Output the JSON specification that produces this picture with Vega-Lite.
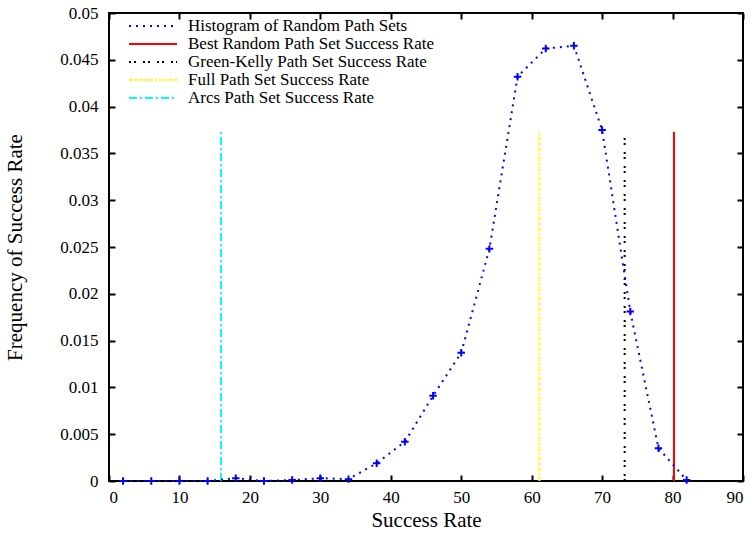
{
  "$schema": "https://vega.github.io/schema/vega-lite/v6.json",
  "autosize": "none",
  "width": 634,
  "height": 468,
  "padding": {"left": 109, "top": 13, "right": 12, "bottom": 52},
  "background": "white",
  "config": {
    "font": "Liberation Serif",
    "view": {"stroke": "black", "strokeWidth": 2},
    "axis": {"grid": false, "labelColor": "black", "titleColor": "black", "labelFont": "Liberation Serif", "titleFont": "Liberation Serif", "labelFontSize": 17, "titleFontSize": 21, "titleFontWeight": "normal"},
    "legend": {"labelFont": "Liberation Serif", "labelFontSize": 17, "labelColor": "black", "labelLimit": 400}
  },
  "datasets": {
    "hist": [
      {"x": 2, "y": 0, "series": "Histogram of Random Path Sets"},
      {"x": 6, "y": 0, "series": "Histogram of Random Path Sets"},
      {"x": 10, "y": 0, "series": "Histogram of Random Path Sets"},
      {"x": 14, "y": 0, "series": "Histogram of Random Path Sets"},
      {"x": 18, "y": 0.0003, "series": "Histogram of Random Path Sets"},
      {"x": 22, "y": 0, "series": "Histogram of Random Path Sets"},
      {"x": 26, "y": 0.0001, "series": "Histogram of Random Path Sets"},
      {"x": 30, "y": 0.0003, "series": "Histogram of Random Path Sets"},
      {"x": 34, "y": 0.0002, "series": "Histogram of Random Path Sets"},
      {"x": 38, "y": 0.0019, "series": "Histogram of Random Path Sets"},
      {"x": 42, "y": 0.0042, "series": "Histogram of Random Path Sets"},
      {"x": 46, "y": 0.0091, "series": "Histogram of Random Path Sets"},
      {"x": 50, "y": 0.0137, "series": "Histogram of Random Path Sets"},
      {"x": 54, "y": 0.0248, "series": "Histogram of Random Path Sets"},
      {"x": 58, "y": 0.0432, "series": "Histogram of Random Path Sets"},
      {"x": 62, "y": 0.0462, "series": "Histogram of Random Path Sets"},
      {"x": 66, "y": 0.0465, "series": "Histogram of Random Path Sets"},
      {"x": 70, "y": 0.0375, "series": "Histogram of Random Path Sets"},
      {"x": 74, "y": 0.0181, "series": "Histogram of Random Path Sets"},
      {"x": 78, "y": 0.0035, "series": "Histogram of Random Path Sets"},
      {"x": 82, "y": 0.0001, "series": "Histogram of Random Path Sets"}
    ],
    "rules": [
      {"x": 80.2, "y": 0, "y2": 0.0373, "series": "Best Random Path Set Success Rate"},
      {"x": 73.2, "y": 0, "y2": 0.0373, "series": "Green-Kelly Path Set Success Rate"},
      {"x": 61.1, "y": 0, "y2": 0.0373, "series": "Full Path Set Success Rate"},
      {"x": 15.9, "y": 0, "y2": 0.0373, "series": "Arcs Path Set Success Rate"}
    ]
  },
  "layer": [
    {
      "data": {"name": "rules"},
      "mark": {"type": "rule", "strokeWidth": 2},
      "encoding": {
        "x": {"field": "x", "type": "quantitative", "scale": {"domain": [0, 90], "nice": false}, "axis": {"orient": "bottom", "values": [0,10,20,30,40,50,60,70,80,90], "title": "Success Rate", "domain": false, "ticks": true, "tickColor": "#000000", "tickWidth": 2, "tickSize": 6, "tickOpacity": 1, "offset": -6, "labelPadding": 8, "titleY": 34}},
        "y": {"field": "y", "type": "quantitative", "scale": {"domain": [0, 0.05], "nice": false}, "axis": {"orient": "left", "values": [0,0.005,0.01,0.015,0.02,0.025,0.03,0.035,0.04,0.045,0.05], "format": "~g", "title": "Frequency of Success Rate", "domain": false, "ticks": true, "tickColor": "#000000", "tickWidth": 2, "tickSize": 6, "tickOpacity": 1, "offset": -6, "labelPadding": 11, "titleX": -90}},
        "y2": {"field": "y2"},
        "color": {"field": "series", "type": "nominal", "scale": {"domain": ["Histogram of Random Path Sets", "Best Random Path Set Success Rate", "Green-Kelly Path Set Success Rate", "Full Path Set Success Rate", "Arcs Path Set Success Rate"], "range": ["#0000ff", "#ff0000", "#000000", "#ffff00", "#00ffff"]}, "legend": {"title": null, "orient": "none", "legendX": 19, "legendY": 4, "symbolType": "stroke", "symbolSize": 2304, "symbolStrokeWidth": 2, "clipHeight": 18, "labelOffset": 10, "rowPadding": 0}},
        "strokeDash": {"field": "series", "type": "nominal", "scale": {"domain": ["Histogram of Random Path Sets", "Best Random Path Set Success Rate", "Green-Kelly Path Set Success Rate", "Full Path Set Success Rate", "Arcs Path Set Success Rate"], "range": [[2, 5], [1, 0], [2, 3, 2, 7], [4, 2, 2, 2], [8, 3, 2, 3]]}, "legend": {"title": null, "orient": "none", "legendX": 19, "legendY": 4, "symbolType": "stroke", "symbolSize": 2304, "symbolStrokeWidth": 2, "clipHeight": 18, "labelOffset": 10, "rowPadding": 0}}
      }
    },
    {
      "data": {"name": "hist"},
      "mark": {"type": "line", "strokeWidth": 2},
      "encoding": {
        "x": {"field": "x", "type": "quantitative", "axis": {"orient": "top", "values": [0,10,20,30,40,50,60,70,80,90], "labels": false, "title": null, "domain": false, "ticks": true, "tickColor": "#000000", "tickWidth": 2, "tickSize": 6, "tickOpacity": 1, "offset": -6}},
        "y": {"field": "y", "type": "quantitative", "axis": {"orient": "right", "values": [0,0.005,0.01,0.015,0.02,0.025,0.03,0.035,0.04,0.045,0.05], "labels": false, "title": null, "domain": false, "ticks": true, "tickColor": "#000000", "tickWidth": 2, "tickSize": 6, "tickOpacity": 1, "offset": -6}},
        "color": {"field": "series", "type": "nominal"},
        "strokeDash": {"field": "series", "type": "nominal"}
      }
    },
    {
      "data": {"name": "hist"},
      "mark": {"type": "point", "shape": "M-1,0L1,0M0,-1L0,1", "size": 56, "filled": false, "stroke": "#0000ff", "strokeWidth": 2, "opacity": 1},
      "encoding": {
        "x": {"field": "x", "type": "quantitative", "axis": null},
        "y": {"field": "y", "type": "quantitative", "axis": null}
      }
    }
  ],
  "resolve": {"axis": {"x": "independent", "y": "independent"}}
}
